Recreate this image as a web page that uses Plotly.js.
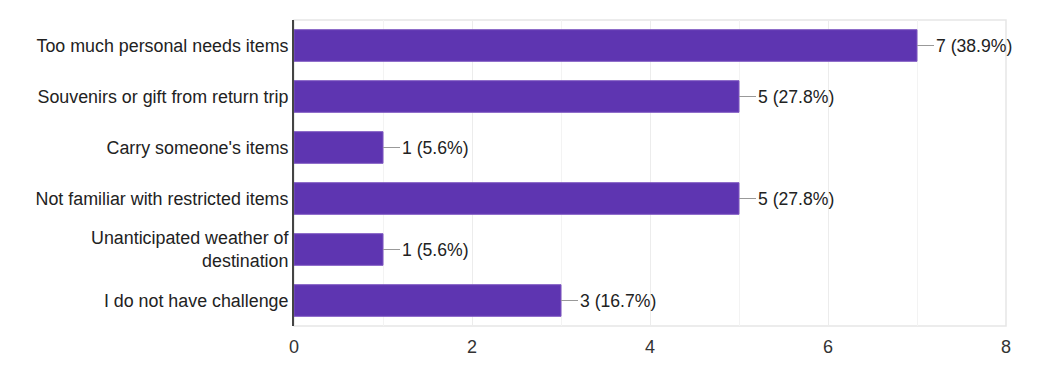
<!DOCTYPE html>
<html>
<head>
<meta charset="utf-8">
<script src="https://cdn.plot.ly/plotly-3.0.1.min.js"></script>
<style>html,body{margin:0;padding:0;background:#fff;}#chart{width:1059px;height:378px;}</style>
</head>
<body>
<div id="chart"></div>
<script>
const categories = [
  "Too much personal needs items",
  "Souvenirs or gift from return trip",
  "Carry someone's items",
  "Not familiar with restricted items",
  "Unanticipated weather of<br>destination",
  "I do not have challenge"
];
const counts = [7, 5, 1, 5, 1, 3];
const percents = ["38.9%", "27.8%", "5.6%", "27.8%", "5.6%", "16.7%"];
const xTicks = [0, 2, 4, 6, 8];

const labels = counts.map((c, i) => c + " (" + percents[i] + ")");
const FONT = "Liberation Sans, Arial, sans-serif";

const trace = {
  type: "bar",
  orientation: "h",
  y: categories,
  x: counts,
  width: 0.62,
  marker: {color: "#5e35b1", line: {color: "#7e57c2", width: 1}},
  hoverinfo: "none"
};

const annotations = counts.map((c, i) => ({
  x: c, y: categories[i], xref: "x", yref: "y",
  text: labels[i],
  showarrow: true, arrowhead: 0, arrowwidth: 1, arrowcolor: "#999",
  ax: 17, ay: 0, xanchor: "left", yanchor: "middle",
  standoff: 0, startstandoff: 0,
  font: {family: FONT, size: 17.6, color: "#222"}
}));

const layout = {
  width: 1059, height: 378,
  margin: {l: 294, r: 53, t: 20, b: 52},
  paper_bgcolor: "#fff", plot_bgcolor: "#fff",
  showlegend: false,
  xaxis: {
    range: [0, 8], tickvals: xTicks, ticktext: xTicks.map(String),
    showgrid: true, gridcolor: "#ececec", gridwidth: 1,
    minor: {dtick: 1, showgrid: true, gridcolor: "#f3f3f3"},
    zeroline: false, showline: false,
    ticks: "", ticklen: 0, ticklabelstandoff: 8,
    tickfont: {family: FONT, size: 18, color: "#333"},
    fixedrange: true
  },
  yaxis: {
    autorange: "reversed",
    showgrid: false, zeroline: false,
    showline: true, linecolor: "#444", linewidth: 2,
    ticks: "", ticklabelstandoff: 0,
    tickfont: {family: FONT, size: 17.85, color: "#222"},
    fixedrange: true
  },
  shapes: [
    {type: "rect", xref: "paper", yref: "paper", x0: 0, x1: 1, y0: 0, y1: 1,
     line: {color: "#e6e6e6", width: 1.5}, layer: "below"}
  ],
  annotations: annotations
};

Plotly.newPlot("chart", [trace], layout, {displayModeBar: false, staticPlot: true});
</script>
</body>
</html>
